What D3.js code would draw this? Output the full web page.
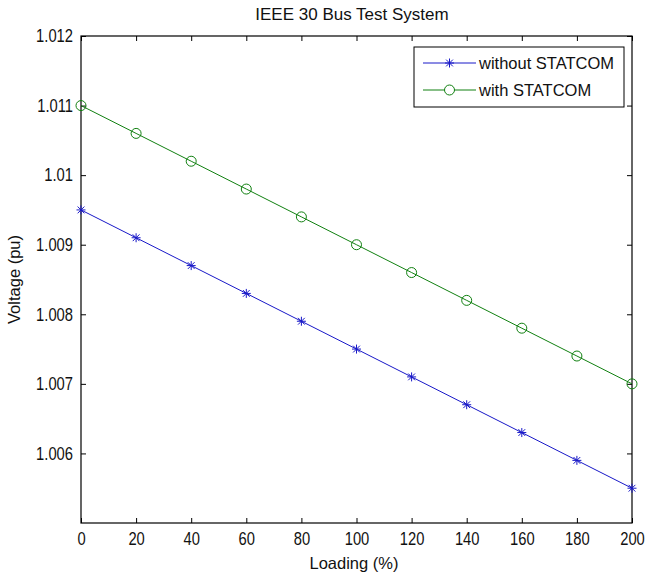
<!DOCTYPE html>
<html>
<head>
<meta charset="utf-8">
<script src="https://cdn.jsdelivr.net/npm/d3@7"></script>
<style>
  body { margin: 0; background: #fff; }
  svg { font-family: "Liberation Sans", Arial, sans-serif; }
</style>
</head>
<body>
<svg id="chart"></svg>
<script>
const width = 645;
const height = 581;

// data
const loading = [0, 20, 40, 60, 80, 100, 120, 140, 160, 180, 200];
const withoutStatcom = [1.0095, 1.0091, 1.0087, 1.0083, 1.0079, 1.0075, 1.0071, 1.0067, 1.0063, 1.0059, 1.0055];
const withStatcom = [1.011, 1.0106, 1.0102, 1.0098, 1.0094, 1.009, 1.0086, 1.0082, 1.0078, 1.0074, 1.007];
const xTicks = [0, 20, 40, 60, 80, 100, 120, 140, 160, 180, 200];
const yTicks = [1.006, 1.007, 1.008, 1.009, 1.01, 1.011, 1.012];
const seriesNames = ["without STATCOM", "with STATCOM"];

const margin = {top: 36, right: 13, bottom: 58, left: 81};

const svg = d3.select("#chart")
  .attr("width", width)
  .attr("height", height);

const x = d3.scaleLinear()
  .domain([0, 200])
  .range([margin.left, width - margin.right]);

const y = d3.scaleLinear()
  .domain([1.005, 1.012])
  .range([height - margin.bottom, margin.top]);

const tickLen = 5;
const squeeze = 0.82; // tick digits are narrow in the original

// axes, ticks pointing inward like matlab
svg.append("g")
  .attr("transform", `translate(0,${height - margin.bottom})`)
  .call(d3.axisBottom(x).tickValues(xTicks).tickSizeInner(-tickLen).tickSizeOuter(0).tickPadding(9).tickFormat(d3.format("d")))
  .call(g => g.select(".domain").remove())
  .call(g => g.selectAll(".tick text").attr("transform", `scale(${squeeze},1)`));

svg.append("g")
  .attr("transform", `translate(0,${margin.top})`)
  .call(d3.axisTop(x).tickValues(xTicks).tickSizeInner(-tickLen).tickSizeOuter(0).tickFormat(""))
  .call(g => g.select(".domain").remove());

svg.append("g")
  .attr("transform", `translate(${margin.left},0)`)
  .call(d3.axisLeft(y).tickValues(yTicks).tickSizeInner(-tickLen).tickSizeOuter(0).tickFormat(d => String(+d.toFixed(3))))
  .call(g => g.select(".domain").remove())
  .call(g => g.selectAll(".tick text")
    .attr("x", -8 / squeeze)
    .attr("transform", `scale(${squeeze},1)`));

svg.append("g")
  .attr("transform", `translate(${width - margin.right},0)`)
  .call(d3.axisRight(y).tickValues(yTicks).tickSizeInner(-tickLen).tickSizeOuter(0).tickFormat(""))
  .call(g => g.select(".domain").remove());

svg.selectAll(".tick line").attr("stroke", "#000");
svg.selectAll(".tick text")
  .attr("fill", "#111")
  .style("font-size", "18px");

// box
svg.append("rect")
  .attr("x", x(0))
  .attr("y", y(1.012))
  .attr("width", x(200) - x(0))
  .attr("height", y(1.005) - y(1.012))
  .attr("fill", "none")
  .attr("stroke", "#000")
  .attr("stroke-width", 1.2);

const line = d3.line()
  .x((d, i) => x(loading[i]))
  .y(d => y(d));

function drawStar(g, cx, cy, color) {
  const s = 4.5;
  const grp = g.append("g").attr("transform", `translate(${cx},${cy})`)
    .attr("stroke", color).attr("stroke-width", 1);
  grp.append("line").attr("x1", -s).attr("x2", s).attr("y1", 0).attr("y2", 0);
  grp.append("line").attr("x1", 0).attr("x2", 0).attr("y1", -s).attr("y2", s);
  grp.append("line").attr("x1", -s * 0.75).attr("x2", s * 0.75).attr("y1", -s * 0.75).attr("y2", s * 0.75);
  grp.append("line").attr("x1", -s * 0.75).attr("x2", s * 0.75).attr("y1", s * 0.75).attr("y2", -s * 0.75);
}

const blue = "#1818c8";
const green = "#108010";

// without STATCOM
svg.append("path")
  .datum(withoutStatcom)
  .attr("d", line)
  .attr("fill", "none")
  .attr("stroke", blue)
  .attr("stroke-width", 1);

withoutStatcom.forEach((v, i) => drawStar(svg, x(loading[i]), y(v), blue));

// with STATCOM
svg.append("path")
  .datum(withStatcom)
  .attr("d", line)
  .attr("fill", "none")
  .attr("stroke", green)
  .attr("stroke-width", 1);

svg.append("g")
  .selectAll("circle")
  .data(withStatcom)
  .join("circle")
  .attr("cx", (d, i) => x(loading[i]))
  .attr("cy", d => y(d))
  .attr("r", 5)
  .attr("fill", "none")
  .attr("stroke", green)
  .attr("stroke-width", 1);

// legend
const legend = svg.append("g").attr("transform", "translate(414,47)");
legend.append("rect")
  .attr("width", 210)
  .attr("height", 60)
  .attr("fill", "#fff")
  .attr("stroke", "#000")
  .attr("stroke-width", 1);

const rows = [
  {name: seriesNames[0], color: blue, y: 16},
  {name: seriesNames[1], color: green, y: 43}
];
rows.forEach(r => {
  legend.append("line")
    .attr("x1", 9).attr("x2", 62)
    .attr("y1", r.y).attr("y2", r.y)
    .attr("stroke", r.color);
  legend.append("text")
    .attr("x", 65)
    .attr("y", r.y)
    .attr("dy", "0.36em")
    .attr("fill", "#111")
    .style("font-size", "16.5px")
    .text(r.name);
});
drawStar(legend, 35.5, rows[0].y, blue);
legend.append("circle")
  .attr("cx", 35.5).attr("cy", rows[1].y).attr("r", 5)
  .attr("fill", "#fff").attr("stroke", green);

// title and axis labels
svg.append("text")
  .attr("x", 352)
  .attr("y", 20)
  .attr("text-anchor", "middle")
  .attr("fill", "#111")
  .style("font-size", "17px")
  .text("IEEE 30 Bus Test System");

svg.append("text")
  .attr("x", 354)
  .attr("y", 569)
  .attr("text-anchor", "middle")
  .attr("fill", "#111")
  .style("font-size", "16.5px")
  .text("Loading (%)");

svg.append("text")
  .attr("transform", `translate(20,${(y(1.005) + y(1.012)) / 2}) rotate(-90)`)
  .attr("text-anchor", "middle")
  .attr("fill", "#111")
  .style("font-size", "16.5px")
  .text("Voltage (pu)");
</script>
</body>
</html>
